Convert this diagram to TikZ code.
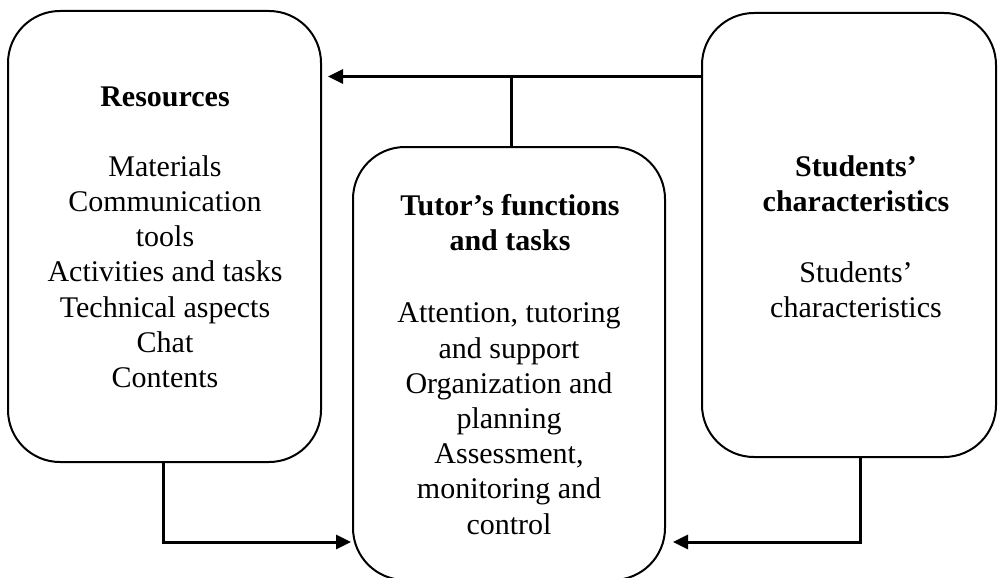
\documentclass[tikz,border=0pt]{standalone}
\usepackage{fontspec}
\setmainfont{Liberation Serif}
\usetikzlibrary{arrows.meta}
\tikzset{
    panel/.style={draw, line width=2pt, rounded corners=52pt, inner sep=0pt},
    link/.style={line width=3pt, -{Triangle[length=15pt,width=14pt]}},
    txt/.style={align=center, anchor=north, font=\fontsize{30}{35.2}\selectfont, inner sep=0pt},
    head/.style={txt, font=\fontsize{30}{35.2}\selectfont\bfseries}
}

\begin{document}
\begin{tikzpicture}[x=1pt, y=-1pt]
    \useasboundingbox (0,0) rectangle (1004,578);

    % Draw boxes
    \node[panel, minimum width=313pt, minimum height=451pt] (res) at (164.5,236.5) {};
    \node[panel, minimum width=312pt, minimum height=433pt] (tutor) at (509,363.5) {};
    \node[panel, minimum width=294pt, minimum height=444pt] (stud) at (849,235) {};

    % Box texts (first baseline = top + strut)
    \node[head] (restitle) at (165,81.4) {\strut Resources};
    \node[txt] (reslist) at (165,151.4) {\strut Materials\\Communication\\tools\\Activities and tasks\\Technical aspects\\Chat\\Contents};
    \node[head] (tutortitle) at (510,190.4) {\strut Tutor’s functions\\and tasks};
    \node[txt] (tutorlist) at (509,298) {\strut Attention, tutoring\\and support\\Organization and\\planning\\Assessment,\\monitoring and\\control};
    \node[head] (studtitle) at (856,151.4) {\strut Students’\\characteristics};
    \node[txt] (studlist) at (856,257.4) {\strut Students’\\characteristics};

    % Junction points
    \coordinate (top) at (511,76.5);
    \coordinate (lcorner) at (163,542);
    \coordinate (rcorner) at (860,542);

    % Connectors
    \draw[link, shorten >=6pt] (stud.west |- top) -- (res.east |- top);
    \draw[line width=3pt] (top) -- (tutor.north -| top);
    \draw[link, shorten >=1pt] (res.south -| lcorner) |- (tutor.west |- lcorner);
    \draw[link, shorten >=7pt] (stud.south -| rcorner) |- (tutor.east |- rcorner);
\end{tikzpicture}
\end{document}
